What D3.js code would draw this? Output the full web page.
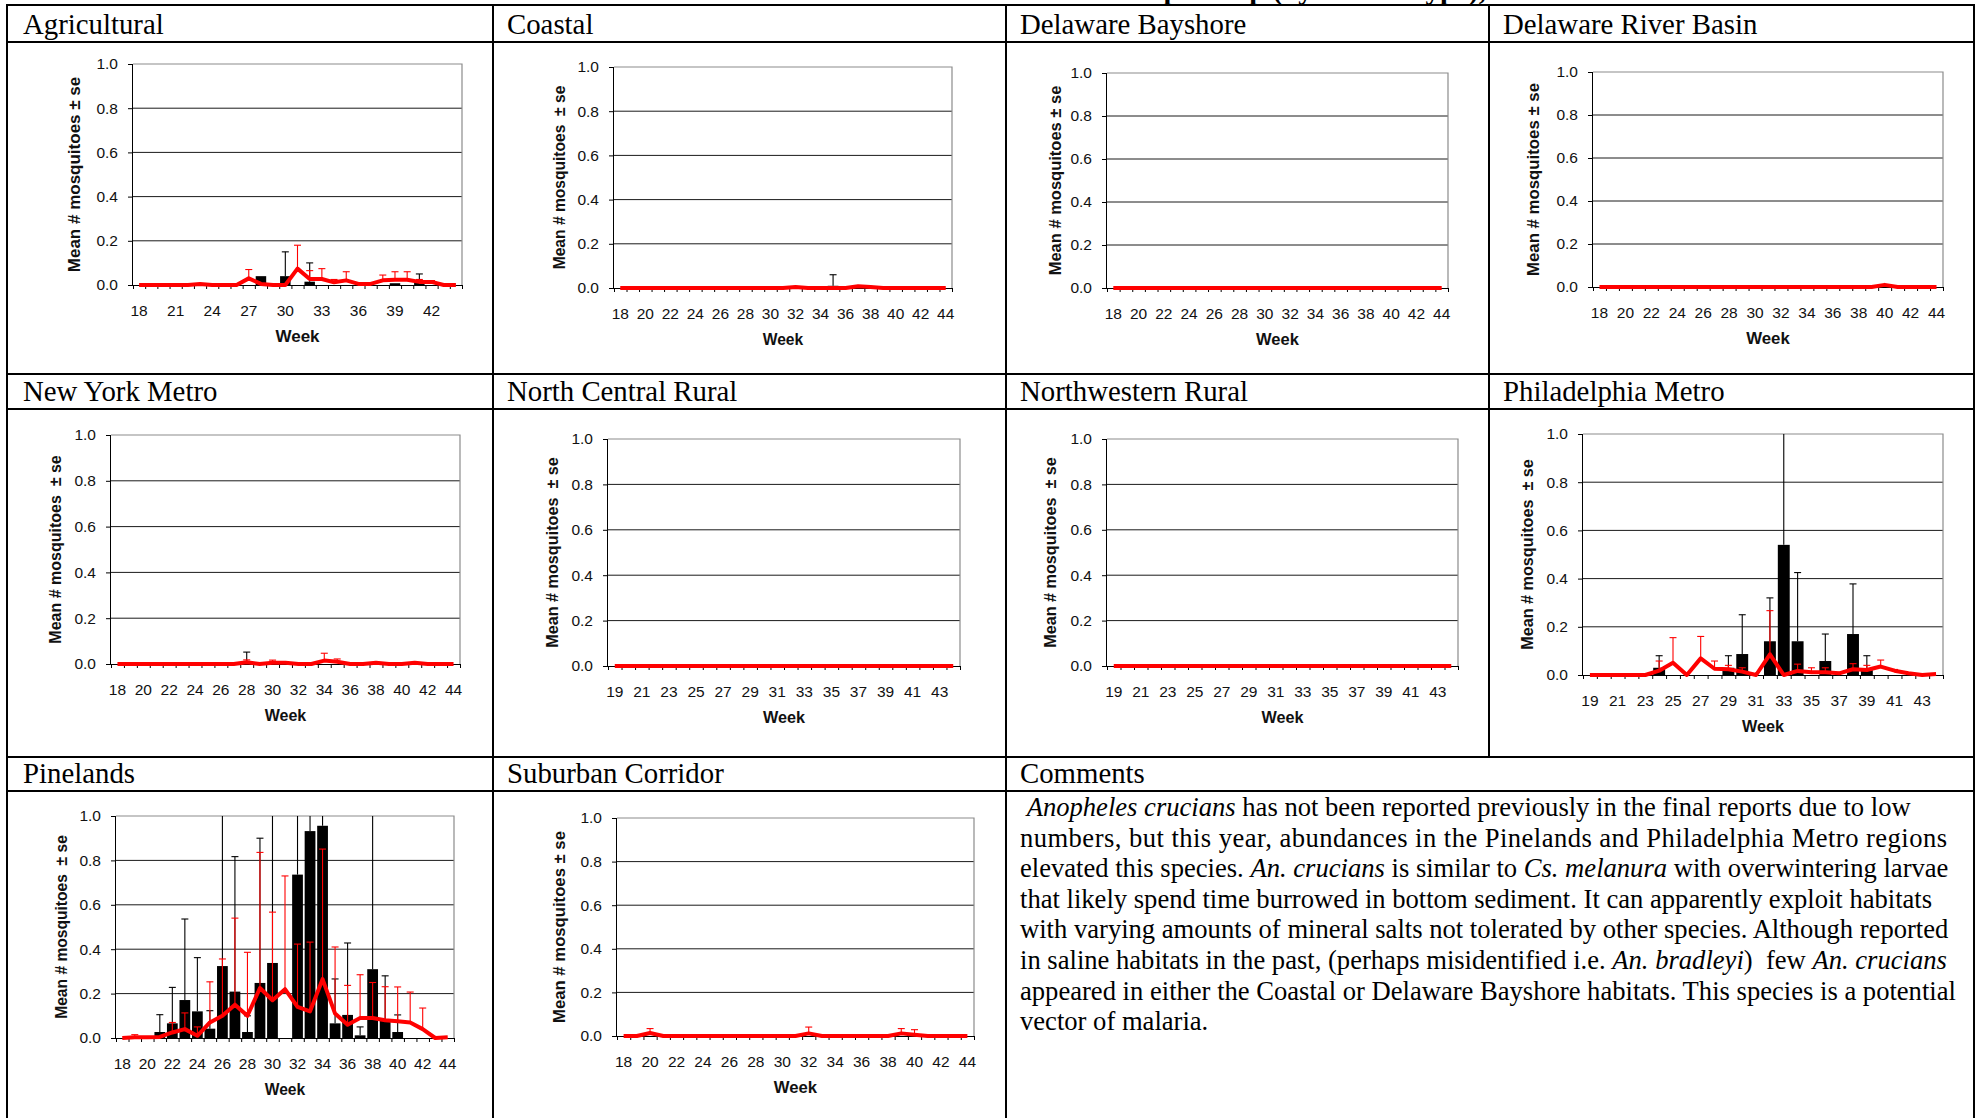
<!DOCTYPE html>
<html>
<head>
<meta charset="utf-8">
<script src="https://cdn.jsdelivr.net/npm/d3@7"></script>
<style>
	body { margin: 0; background: #fff; }
	svg { display: block; }
</style>
</head>
<body>
<script>
(function () {
	"use strict";

	// ---- categories and ticks ----
	const weeks18to44 = [18,19,20,21,22,23,24,25,26,27,28,29,30,31,32,33,34,35,36,37,38,39,40,41,42,43,44];
	const weeks19to44 = [19,20,21,22,23,24,25,26,27,28,29,30,31,32,33,34,35,36,37,38,39,40,41,42,43,44];
	const ticksBy3 = [18,21,24,27,30,33,36,39,42];
	const ticksEven = [18,20,22,24,26,28,30,32,34,36,38,40,42,44];
	const ticksOdd = [19,21,23,25,27,29,31,33,35,37,39,41,43];
	const yTickValues = [0, 0.2, 0.4, 0.6, 0.8, 1.0];

	// ---- Agricultural (weeks 18-44) ----
	const agriBars   = [0,0,0,0,0,0,0,0,0,0,0.04,0,0.04,0,0.015,0,0,0,0,0,0,0.008,0,0.01,0,0,0];
	const agriBarsSe = [0,0,0,0,0,0,0,0,0,0,0,0,0.11,0,0.085,0,0,0,0,0,0,0,0,0.04,0,0,0];
	const agriLine   = [0,0,0,0,0,0.005,0,0,0,0.03,0.005,0,0,0.074,0.027,0.027,0.012,0.021,0.005,0.005,0.021,0.024,0.024,0.014,0.014,0,0];
	const agriLineSe = [0,0,0,0,0,0,0,0,0,0.04,0,0,0,0.106,0.038,0.047,0.013,0.039,0,0,0.024,0.036,0.036,0.011,0.006,0,0];

	// ---- Coastal (weeks 18-44) ----
	const coastBars   = [0,0,0,0,0,0,0,0,0,0,0,0,0,0,0,0,0,0.01,0,0,0,0,0,0,0,0,0];
	const coastBarsSe = [0,0,0,0,0,0,0,0,0,0,0,0,0,0,0,0,0,0.05,0,0,0,0,0,0,0,0,0];
	const coastLine   = [0,0,0,0,0,0,0,0,0,0,0,0,0,0,0.005,0,0,0,0,0.008,0.004,0,0,0,0,0,0];
	const coastLineSe = [0,0,0,0,0,0,0,0,0,0,0,0,0,0,0,0,0,0,0,0,0,0,0,0,0,0,0];

	// ---- Delaware Bayshore (weeks 18-44) ----
	const bayBars   = [0,0,0,0,0,0,0,0,0,0,0,0,0,0,0,0,0,0,0,0,0,0,0,0,0,0,0];
	const bayBarsSe = [0,0,0,0,0,0,0,0,0,0,0,0,0,0,0,0,0,0,0,0,0,0,0,0,0,0,0];
	const bayLine   = [0,0,0,0,0,0,0,0,0,0,0,0,0,0,0,0,0,0,0,0,0,0,0,0,0,0,0];
	const bayLineSe = [0,0,0,0,0,0,0,0,0,0,0,0,0,0,0,0,0,0,0,0,0,0,0,0,0,0,0];

	// ---- Delaware River Basin (weeks 18-44) ----
	const drbBars   = [0,0,0,0,0,0,0,0,0,0,0,0,0,0,0,0,0,0,0,0,0,0,0,0,0,0,0];
	const drbBarsSe = [0,0,0,0,0,0,0,0,0,0,0,0,0,0,0,0,0,0,0,0,0,0,0,0,0,0,0];
	const drbLine   = [0,0,0,0,0,0,0,0,0,0,0,0,0,0,0,0,0,0,0,0,0,0,0.01,0,0,0,0];
	const drbLineSe = [0,0,0,0,0,0,0,0,0,0,0,0,0,0,0,0,0,0,0,0,0,0,0,0,0,0,0];

	// ---- New York Metro (weeks 18-44) ----
	const nyBars   = [0,0,0,0,0,0,0,0,0,0,0.005,0,0,0,0,0,0,0,0,0,0,0,0,0,0,0,0];
	const nyBarsSe = [0,0,0,0,0,0,0,0,0,0,0.047,0,0,0,0,0,0,0,0,0,0,0,0,0,0,0,0];
	const nyLine   = [0,0,0,0,0,0,0,0,0,0,0.008,0,0.005,0.005,0,0,0.015,0.01,0,0,0.005,0,0,0.005,0,0,0];
	const nyLineSe = [0,0,0,0,0,0,0,0,0,0,0.01,0,0.012,0,0,0,0.032,0.012,0,0,0,0,0,0,0,0,0];

	// ---- North Central Rural (weeks 19-44) ----
	const ncrBars   = [0,0,0,0,0,0,0,0,0,0,0,0,0,0,0,0,0,0,0,0,0,0,0,0,0,0];
	const ncrBarsSe = [0,0,0,0,0,0,0,0,0,0,0,0,0,0,0,0,0,0,0,0,0,0,0,0,0,0];
	const ncrLine   = [0,0,0,0,0,0,0,0,0,0,0,0,0,0,0,0,0,0,0,0,0,0,0,0,0,0];
	const ncrLineSe = [0,0,0,0,0,0,0,0,0,0,0,0,0,0,0,0,0,0,0,0,0,0,0,0,0,0];

	// ---- Northwestern Rural (weeks 19-44) ----
	const nwrBars   = [0,0,0,0,0,0,0,0,0,0,0,0,0,0,0,0,0,0,0,0,0,0,0,0,0,0];
	const nwrBarsSe = [0,0,0,0,0,0,0,0,0,0,0,0,0,0,0,0,0,0,0,0,0,0,0,0,0,0];
	const nwrLine   = [0,0,0,0,0,0,0,0,0,0,0,0,0,0,0,0,0,0,0,0,0,0,0,0,0,0];
	const nwrLineSe = [0,0,0,0,0,0,0,0,0,0,0,0,0,0,0,0,0,0,0,0,0,0,0,0,0,0];

	// ---- Philadelphia Metro (weeks 19-44) ----
	const philBars   = [0,0,0,0,0,0.03,0,0,0,0,0.03,0.087,0,0.14,0.54,0.14,0,0.058,0,0.17,0.02,0,0,0,0,0];
	const philBarsSe = [0,0,0,0,0,0.05,0,0,0,0,0.05,0.163,0,0.18,0.6,0.285,0,0.112,0,0.208,0.06,0,0,0,0,0];
	const philLine   = [0,0,0,0,0,0.018,0.051,0,0.069,0.026,0.024,0.014,0,0.086,0,0.017,0.011,0.011,0.007,0.024,0.021,0.035,0.018,0.007,0,0.004];
	const philLineSe = [0,0,0,0,0,0.04,0.104,0,0.091,0.032,0.016,0.016,0,0.181,0,0.028,0.019,0.019,0,0.023,0.019,0.027,0.005,0,0,0];

	// ---- Pinelands (weeks 18-44) ----
	const pineBars   = [0,0,0,0.027,0.066,0.171,0.12,0.042,0.324,0.209,0.027,0.248,0.338,0,0.736,0.932,0.956,0.066,0.104,0.012,0.31,0.08,0.027,0,0,0,0];
	const pineBarsSe = [0,0,0,0.078,0.162,0.365,0.242,0.081,0.8,0.608,0.073,0.652,0.8,0,0.5,0.4,0.3,0.2,0.324,0.038,0.8,0.2,0.077,0,0,0,0];
	const pineLine   = [0,0.003,0.003,0.005,0.025,0.04,0.01,0.07,0.1,0.15,0.1,0.225,0.17,0.22,0.14,0.12,0.265,0.11,0.06,0.09,0.09,0.08,0.075,0.07,0.04,0,0.003];
	const pineLineSe = [0,0.012,0,0,0.045,0.073,0.04,0.183,0.256,0.39,0.286,0.611,0.397,0.51,0.283,0.312,0.586,0.3,0.177,0.195,0.16,0.151,0.155,0.137,0.095,0,0];

	// ---- Suburban Corridor (weeks 18-44) ----
	const subBars   = [0,0,0,0,0,0,0,0,0,0,0,0,0,0,0,0,0,0,0,0,0,0,0,0,0,0,0];
	const subBarsSe = [0,0,0,0,0,0,0,0,0,0,0,0,0,0,0,0,0,0,0,0,0,0,0,0,0,0,0];
	const subLine   = [0,0,0.014,0,0,0,0,0,0,0,0,0,0,0,0.012,0,0,0,0,0,0,0.012,0.006,0,0,0,0];
	const subLineSe = [0,0,0.02,0,0,0,0,0,0,0,0,0,0,0,0.029,0,0,0,0,0,0,0.022,0.023,0,0,0,0];

	const yTitleSingle = "Mean # mosquitoes ± se";
	const yTitleDouble = "Mean # mosquitoes \u00a0± se";
	const xTitle = "Week";
	const pageTitle = "Mean number of An. crucians per trap (by habitat type),";

	const commentLines = [
		[["\u00a0", false], ["Anopheles crucians", true], [" has not been reported previously in the final reports due to low", false]],
		[["numbers, but this year, abundances in the Pinelands and Philadelphia Metro regions", false]],
		[["elevated this species. ", false], ["An. crucians", true], [" is similar to ", false], ["Cs. melanura", true], [" with overwintering larvae", false]],
		[["that likely spend time burrowed in bottom sediment. It can apparently exploit habitats", false]],
		[["with varying amounts of mineral salts not tolerated by other species. Although reported", false]],
		[["in saline habitats in the past, (perhaps misidentified i.e. ", false], ["An. bradleyi", true], [") \u00a0few ", false], ["An. crucians", true]],
		[["appeared in either the Coastal or Delaware Bayshore habitats. This species is a potential", false]],
		[["vector of malaria.", false]]
	];

	// ---- charts: data plus where each plot sits on the page ----
	let charts = [
		{ name: "Agricultural", weeks: weeks18to44, ticks: ticksBy3, bars: agriBars, barsSe: agriBarsSe, line: agriLine, lineSe: agriLineSe, yTitle: yTitleSingle,
			box: { l: 133, r: 462, t: 64, b: 285, tdx: 59, tfs: 17 }, head: { x: 23, y: 34 } },
		{ name: "Coastal", weeks: weeks18to44, ticks: ticksEven, bars: coastBars, barsSe: coastBarsSe, line: coastLine, lineSe: coastLineSe, yTitle: yTitleDouble,
			box: { l: 614, r: 952, t: 67, b: 288, tdx: 54, tfs: 15.6 }, head: { x: 507, y: 34 } },
		{ name: "Delaware Bayshore", weeks: weeks18to44, ticks: ticksEven, bars: bayBars, barsSe: bayBarsSe, line: bayLine, lineSe: bayLineSe, yTitle: yTitleSingle,
			box: { l: 1107, r: 1448, t: 73, b: 288, tdx: 52, tfs: 16.5 }, head: { x: 1020, y: 34 } },
		{ name: "Delaware River Basin", weeks: weeks18to44, ticks: ticksEven, bars: drbBars, barsSe: drbBarsSe, line: drbLine, lineSe: drbLineSe, yTitle: yTitleSingle,
			box: { l: 1593, r: 1943, t: 72, b: 287, tdx: 60, tfs: 16.8 }, head: { x: 1503, y: 34 } },
		{ name: "New York Metro", weeks: weeks18to44, ticks: ticksEven, bars: nyBars, barsSe: nyBarsSe, line: nyLine, lineSe: nyLineSe, yTitle: yTitleDouble,
			box: { l: 111, r: 460, t: 435, b: 664, tdx: 56, tfs: 16 }, head: { x: 23, y: 401 } },
		{ name: "North Central Rural", weeks: weeks19to44, ticks: ticksOdd, bars: ncrBars, barsSe: ncrBarsSe, line: ncrLine, lineSe: ncrLineSe, yTitle: yTitleDouble,
			box: { l: 608, r: 960, t: 439, b: 666, tdx: 56, tfs: 16.2 }, head: { x: 507, y: 401 } },
		{ name: "Northwestern Rural", weeks: weeks19to44, ticks: ticksOdd, bars: nwrBars, barsSe: nwrBarsSe, line: nwrLine, lineSe: nwrLineSe, yTitle: yTitleDouble,
			box: { l: 1107, r: 1458, t: 439, b: 666, tdx: 57, tfs: 16.2 }, head: { x: 1020, y: 401 } },
		{ name: "Philadelphia Metro", weeks: weeks19to44, ticks: ticksOdd, bars: philBars, barsSe: philBarsSe, line: philLine, lineSe: philLineSe, yTitle: yTitleDouble,
			box: { l: 1583, r: 1943, t: 434, b: 675, tdx: 56, tfs: 16.2 }, head: { x: 1503, y: 401 } },
		{ name: "Pinelands", weeks: weeks18to44, ticks: ticksEven, bars: pineBars, barsSe: pineBarsSe, line: pineLine, lineSe: pineLineSe, yTitle: yTitleDouble,
			box: { l: 116, r: 454, t: 816, b: 1038, tdx: 54, tfs: 15.6 }, head: { x: 23, y: 783 } },
		{ name: "Suburban Corridor", weeks: weeks18to44, ticks: ticksEven, bars: subBars, barsSe: subBarsSe, line: subLine, lineSe: subLineSe, yTitle: yTitleSingle,
			box: { l: 617, r: 974, t: 818, b: 1036, tdx: 58, tfs: 16.7 }, head: { x: 507, y: 783 } }
	];

	let w = 1981;
	let h = 1118;

	let serif = "'Liberation Serif', 'Times New Roman', serif";
	let sans = "'Liberation Sans', Arial, sans-serif";

	let svg = d3.select("body").append("svg")
		.attr("width", w)
		.attr("height", h);

	svg.append("rect").attr("width", w).attr("height", h).attr("fill", "#fff");

	// page title: only its lowest strokes are inside the picture
	svg.append("text")
		.attr("x", 1486)
		.attr("y", -1)
		.attr("text-anchor", "end")
		.style("font-family", serif)
		.style("font-weight", "bold")
		.style("font-size", "29px")
		.text(pageTitle);

	// ---- table grid ----
	let grid = svg.append("g").attr("stroke", "#000").attr("stroke-width", 2);
	[5, 42, 374, 409, 757, 791].forEach(function (yy) {
		grid.append("line").attr("x1", 6).attr("x2", 1975).attr("y1", yy).attr("y2", yy);
	});
	[[7, 5, h], [493, 5, h], [1006, 5, h], [1489, 5, 757], [1974, 5, h]].forEach(function (v) {
		grid.append("line").attr("x1", v[0]).attr("x2", v[0]).attr("y1", v[1]).attr("y2", v[2]);
	});

	// headers
	charts.forEach(function (c) {
		svg.append("text")
			.attr("x", c.head.x).attr("y", c.head.y)
			.style("font-family", serif).style("font-size", "28.8px")
			.text(c.name);
	});
	svg.append("text")
		.attr("x", 1020).attr("y", 783)
		.style("font-family", serif).style("font-size", "28.8px")
		.text("Comments");

	// ---- comments ----
	let comments = svg.append("g")
		.style("font-family", serif)
		.style("font-size", "26.6px");

	commentLines.forEach(function (parts, i) {
		let t = comments.append("text")
			.attr("x", 1020)
			.attr("y", 816 + i * 30.6);
		parts.forEach(function (p) {
			t.append("tspan")
				.style("font-style", p[1] ? "italic" : "normal")
				.text(p[0]);
		});
		// the second line is spread wider in the original
		if (i === 1) {
			t.attr("textLength", 927).attr("lengthAdjust", "spacing");
		}
	});

	// ---- one chart ----
	function drawChart(c) {
		let b = c.box;
		let g = svg.append("g");

		let x = d3.scaleBand().domain(c.weeks).range([b.l, b.r]);
		let xEdge = d3.scaleLinear().domain([0, c.weeks.length]).range([b.l, b.r]);
		let y = d3.scaleLinear().domain([0, 1]).range([b.b, b.t]).clamp(true);
		let bw = x.bandwidth();
		let cx = function (wk) { return x(wk) + bw / 2; };

		// horizontal gridlines
		g.selectAll(".grid")
			.data(yTickValues.filter(function (v) { return v > 0 && v < 1; }))
			.enter()
			.append("line")
			.attr("x1", b.l).attr("x2", b.r)
			.attr("y1", function (d) { return y(d); })
			.attr("y2", function (d) { return y(d); })
			.attr("stroke", "#1a1a1a")
			.attr("stroke-width", 1);

		// plot frame (top and right in gray)
		g.append("path")
			.attr("d", "M" + b.l + "," + y(1) + "H" + b.r + "V" + b.b)
			.attr("fill", "none")
			.attr("stroke", "#8c8c8c")
			.attr("stroke-width", 1.2);

		// y axis
		g.append("g")
			.attr("transform", "translate(" + b.l + ",0)")
			.call(d3.axisLeft(y).tickValues(yTickValues).tickFormat(d3.format(".1f")).tickSize(5).tickPadding(10))
			.call(function (a) {
				a.select(".domain").attr("stroke", "#000").attr("d", "M-0.5," + b.t + "V" + b.b);
				a.selectAll("line").attr("stroke", "#000");
				a.selectAll("text").style("font-family", sans).style("font-size", "15.5px").attr("fill", "#111");
			});

		// x axis: tick marks between categories
		g.append("g")
			.attr("transform", "translate(0," + b.b + ")")
			.call(d3.axisBottom(xEdge).tickValues(d3.range(c.weeks.length + 1)).tickFormat("").tickSize(4))
			.call(function (a) {
				a.select(".domain").attr("stroke", "#000").attr("d", "M" + b.l + ",0.5H" + b.r);
				a.selectAll("line").attr("stroke", "#000");
			});

		// x axis labels at category centres
		g.append("g")
			.attr("transform", "translate(0," + b.b + ")")
			.call(d3.axisBottom(x).tickValues(c.ticks).tickSize(0).tickPadding(20))
			.call(function (a) {
				a.select(".domain").remove();
				a.selectAll("text").style("font-family", sans).style("font-size", "15.5px").attr("fill", "#111");
			});

		// axis titles
		g.append("text")
			.attr("x", (b.l + b.r) / 2)
			.attr("y", b.b + 57)
			.attr("text-anchor", "middle")
			.style("font-family", sans).style("font-weight", "bold").style("font-size", b.tfs + "px")
			.attr("fill", "#111")
			.text(xTitle);

		g.append("text")
			.attr("transform", "translate(" + (b.l - b.tdx) + "," + ((b.t + b.b) / 2) + ") rotate(-90)")
			.attr("dy", "0.35em")
			.attr("text-anchor", "middle")
			.style("font-family", sans).style("font-weight", "bold").style("font-size", b.tfs + "px")
			.attr("fill", "#111")
			.text(c.yTitle);

		let barData = c.weeks.map(function (wk, i) { return { week: wk, v: c.bars[i], se: c.barsSe[i] }; });
		let lineData = c.weeks.map(function (wk, i) { return { week: wk, v: c.line[i], se: c.lineSe[i] }; });

		// black bars
		g.selectAll(".bar")
			.data(barData.filter(function (d) { return d.v > 0; }))
			.enter()
			.append("rect")
			.attr("x", function (d) { return x(d.week) + bw * 0.07; })
			.attr("width", bw * 0.86)
			.attr("y", function (d) { return y(d.v); })
			.attr("height", function (d) { return y(0) - y(d.v); })
			.attr("fill", "#000");

		function errorBars(data, colour) {
			let eg = g.append("g").attr("stroke", colour).attr("stroke-width", 1.1);
			data.filter(function (d) { return d.se > 0; }).forEach(function (d) {
				let top = d.v + d.se;
				eg.append("line")
					.attr("x1", cx(d.week)).attr("x2", cx(d.week))
					.attr("y1", y(d.v)).attr("y2", y(top));
				if (top < 1) {
					eg.append("line")
						.attr("x1", cx(d.week) - 3.5).attr("x2", cx(d.week) + 3.5)
						.attr("y1", y(top)).attr("y2", y(top));
				}
			});
		}

		errorBars(barData, "#000");
		errorBars(lineData, "#ff0000");

		// red line
		g.append("path")
			.datum(lineData)
			.attr("d", d3.line()
				.x(function (d) { return cx(d.week); })
				.y(function (d) { return y(d.v); }))
			.attr("fill", "none")
			.attr("stroke", "#ff0000")
			.attr("stroke-width", 4)
			.attr("stroke-linejoin", "round");
	}

	charts.forEach(drawChart);

})();
</script>
</body>
</html>
